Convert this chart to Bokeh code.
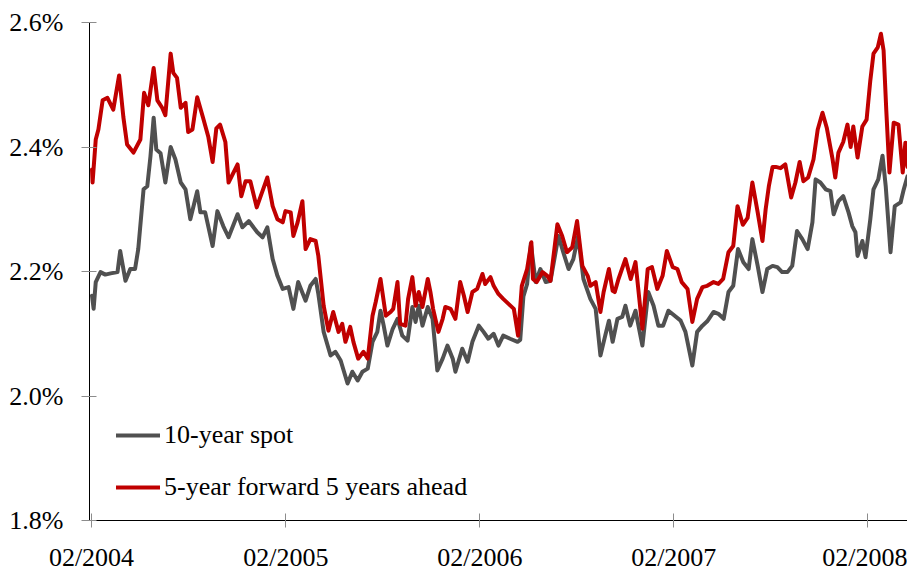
import pandas as pd
from bokeh.plotting import figure
from bokeh.models import (Range1d, FixedTicker, PrintfTickFormatter, DatetimeTickFormatter,
                          Legend, LegendItem, Label, ColumnDataSource)
from bokeh.embed import file_html
from bokeh.resources import INLINE

TITLE = "Figure 6: Long-term euro area break-even inflation"
SERIES_NAMES = ["10-year spot", "5-year forward 5 years ahead"]
Y_TICKS = [1.8, 2.0, 2.2, 2.4, 2.6]
X_TICK_DATES = ["2004-02-01", "2005-02-01", "2006-02-01", "2007-02-01", "2008-02-01"]

spot_dates = [
    "2004-02-02", "2004-02-05", "2004-02-09", "2004-02-18", "2004-02-27", "2004-03-08", "2004-03-21", "2004-03-26",
    "2004-04-05", "2004-04-14", "2004-04-23", "2004-04-29", "2004-05-09", "2004-05-16", "2004-05-22", "2004-05-28",
    "2004-06-02", "2004-06-10", "2004-06-19", "2004-06-29", "2004-07-08", "2004-07-18", "2004-07-27", "2004-08-05",
    "2004-08-18", "2004-08-24", "2004-09-02", "2004-09-16", "2004-09-25", "2004-10-06", "2004-10-16", "2004-11-02",
    "2004-11-11", "2004-11-23", "2004-12-09", "2004-12-19", "2004-12-28", "2005-01-07", "2005-01-16", "2005-01-26",
    "2005-02-06", "2005-02-15", "2005-02-24", "2005-03-10", "2005-03-19", "2005-03-29", "2005-04-03", "2005-04-13",
    "2005-04-26", "2005-05-05", "2005-05-15", "2005-05-28", "2005-06-06", "2005-06-16", "2005-06-25", "2005-07-05",
    "2005-07-14", "2005-07-23", "2005-07-29", "2005-08-04", "2005-08-11", "2005-08-21", "2005-08-30", "2005-09-08",
    "2005-09-18", "2005-09-27", "2005-10-03", "2005-10-09", "2005-10-16", "2005-10-26", "2005-11-04", "2005-11-13",
    "2005-11-23", "2005-12-02", "2005-12-12", "2005-12-17", "2005-12-30", "2006-01-09", "2006-01-18", "2006-01-30",
    "2006-02-08", "2006-02-17", "2006-02-27", "2006-03-08", "2006-03-17", "2006-03-30", "2006-04-13", "2006-04-18",
    "2006-04-24", "2006-05-01", "2006-05-08", "2006-05-17", "2006-05-26", "2006-06-05", "2006-06-14", "2006-06-29",
    "2006-07-08", "2006-07-18", "2006-07-27", "2006-08-05", "2006-08-15", "2006-08-28", "2006-09-07", "2006-09-16",
    "2006-09-25", "2006-10-02", "2006-10-09", "2006-10-18", "2006-10-27", "2006-11-02", "2006-11-11", "2006-11-21",
    "2006-12-04", "2006-12-15", "2006-12-25", "2007-01-03", "2007-01-12", "2007-01-22", "2007-02-01", "2007-02-14",
    "2007-02-23", "2007-03-08", "2007-03-17", "2007-03-27", "2007-04-05", "2007-04-17", "2007-04-26", "2007-05-06",
    "2007-05-15", "2007-05-24", "2007-06-02", "2007-06-12", "2007-06-22", "2007-06-29", "2007-07-09", "2007-07-18",
    "2007-07-27", "2007-08-06", "2007-08-15", "2007-08-24", "2007-09-03", "2007-09-12", "2007-09-21", "2007-10-01",
    "2007-10-11", "2007-10-20", "2007-10-26", "2007-11-04", "2007-11-14", "2007-11-23", "2007-11-29", "2007-12-08",
    "2007-12-17", "2007-12-27", "2008-01-03", "2008-01-09", "2008-01-13", "2008-01-22", "2008-01-28", "2008-02-06",
    "2008-02-12", "2008-02-21", "2008-02-29", "2008-03-06", "2008-03-11", "2008-03-15", "2008-03-23", "2008-04-03",
    "2008-04-09", "2008-04-16",
]
spot_values = [
    2.161, 2.140, 2.183, 2.199, 2.195, 2.197, 2.199, 2.233,
    2.185, 2.204, 2.204, 2.236, 2.332, 2.337, 2.385, 2.447,
    2.396, 2.390, 2.343, 2.400, 2.380, 2.343, 2.332, 2.284,
    2.329, 2.295, 2.295, 2.241, 2.297, 2.273, 2.255, 2.292,
    2.271, 2.281, 2.263, 2.255, 2.271, 2.220, 2.193, 2.172,
    2.175, 2.140, 2.183, 2.153, 2.177, 2.188, 2.164, 2.103,
    2.065, 2.071, 2.057, 2.020, 2.039, 2.025, 2.039, 2.044,
    2.087, 2.103, 2.137, 2.113, 2.081, 2.108, 2.124, 2.097,
    2.089, 2.143, 2.119, 2.145, 2.113, 2.143, 2.124, 2.041,
    2.060, 2.081, 2.060, 2.039, 2.076, 2.055, 2.087, 2.113,
    2.103, 2.092, 2.100, 2.081, 2.097, 2.092, 2.087, 2.090,
    2.160, 2.180, 2.245, 2.183, 2.204, 2.183, 2.185, 2.257,
    2.231, 2.204, 2.220, 2.257, 2.188, 2.156, 2.140, 2.065,
    2.097, 2.121, 2.087, 2.124, 2.127, 2.145, 2.113, 2.137,
    2.081, 2.167, 2.145, 2.113, 2.113, 2.137, 2.130, 2.121,
    2.103, 2.049, 2.103, 2.113, 2.120, 2.135, 2.132, 2.124,
    2.167, 2.177, 2.236, 2.215, 2.204, 2.252, 2.209, 2.167,
    2.204, 2.209, 2.207, 2.199, 2.199, 2.209, 2.265, 2.252,
    2.236, 2.279, 2.348, 2.343, 2.332, 2.329, 2.292, 2.313,
    2.321, 2.295, 2.273, 2.263, 2.225, 2.249, 2.223, 2.284,
    2.332, 2.348, 2.386, 2.337, 2.279, 2.231, 2.305, 2.311,
    2.332, 2.353,
]

fwd_dates = [
    "2004-02-02", "2004-02-03", "2004-02-09", "2004-02-14", "2004-02-22", "2004-03-02", "2004-03-13", "2004-03-24",
    "2004-04-01", "2004-04-08", "2004-04-20", "2004-05-03", "2004-05-10", "2004-05-18", "2004-05-28", "2004-06-04",
    "2004-06-13", "2004-06-19", "2004-06-29", "2004-07-04", "2004-07-11", "2004-07-18", "2004-07-27", "2004-08-01",
    "2004-08-09", "2004-08-18", "2004-08-29", "2004-09-08", "2004-09-16", "2004-09-23", "2004-09-30", "2004-10-10",
    "2004-10-16", "2004-11-02", "2004-11-09", "2004-11-17", "2004-11-26", "2004-12-08", "2004-12-18", "2004-12-28",
    "2005-01-07", "2005-01-16", "2005-01-26", "2005-01-31", "2005-02-10", "2005-02-15", "2005-02-23", "2005-03-04",
    "2005-03-10", "2005-03-19", "2005-03-29", "2005-04-03", "2005-04-13", "2005-04-22", "2005-05-01", "2005-05-11",
    "2005-05-18", "2005-05-24", "2005-06-02", "2005-06-08", "2005-06-17", "2005-06-27", "2005-07-05", "2005-07-14",
    "2005-07-20", "2005-07-29", "2005-08-08", "2005-08-17", "2005-08-22", "2005-08-30", "2005-09-04", "2005-09-14",
    "2005-09-19", "2005-09-27", "2005-10-03", "2005-10-09", "2005-10-16", "2005-10-26", "2005-10-31", "2005-11-05",
    "2005-11-15", "2005-11-23", "2005-11-28", "2005-12-08", "2005-12-17", "2005-12-26", "2006-01-02", "2006-01-09",
    "2006-01-18", "2006-01-27", "2006-02-06", "2006-02-11", "2006-02-21", "2006-02-27", "2006-03-08", "2006-03-17",
    "2006-03-27", "2006-04-06", "2006-04-14", "2006-04-21", "2006-05-01", "2006-05-09", "2006-05-12", "2006-05-19",
    "2006-05-30", "2006-06-08", "2006-06-14", "2006-06-27", "2006-07-06", "2006-07-15", "2006-07-25", "2006-08-03",
    "2006-08-13", "2006-08-23", "2006-08-28", "2006-09-07", "2006-09-16", "2006-09-22", "2006-10-02", "2006-10-09",
    "2006-10-13", "2006-10-20", "2006-11-02", "2006-11-12", "2006-11-21", "2006-12-04", "2006-12-14", "2006-12-22",
    "2007-01-01", "2007-01-11", "2007-01-19", "2007-01-30", "2007-02-08", "2007-02-16", "2007-02-27", "2007-03-08",
    "2007-03-17", "2007-03-27", "2007-04-05", "2007-04-17", "2007-04-26", "2007-05-05", "2007-05-15", "2007-05-24",
    "2007-06-01", "2007-06-11", "2007-06-20", "2007-06-29", "2007-07-09", "2007-07-18", "2007-07-24", "2007-07-30",
    "2007-08-06", "2007-08-12", "2007-08-21", "2007-08-30", "2007-09-10", "2007-09-18", "2007-09-26", "2007-10-03",
    "2007-10-12", "2007-10-22", "2007-10-30", "2007-11-08", "2007-11-16", "2007-11-27", "2007-12-02", "2007-12-08",
    "2007-12-17", "2007-12-25", "2007-12-31", "2008-01-05", "2008-01-13", "2008-01-22", "2008-01-30", "2008-02-06",
    "2008-02-12", "2008-02-20", "2008-02-26", "2008-03-02", "2008-03-07", "2008-03-13", "2008-03-21", "2008-03-30",
    "2008-04-07", "2008-04-12", "2008-04-16",
]
fwd_values = [
    2.364, 2.343, 2.412, 2.428, 2.475, 2.479, 2.460, 2.515,
    2.448, 2.404, 2.391, 2.412, 2.487, 2.467, 2.527, 2.475,
    2.463, 2.451, 2.550, 2.519, 2.511, 2.463, 2.471, 2.424,
    2.428, 2.480, 2.447, 2.416, 2.376, 2.430, 2.436, 2.408,
    2.343, 2.372, 2.321, 2.345, 2.345, 2.303, 2.327, 2.351,
    2.305, 2.284, 2.279, 2.297, 2.295, 2.257, 2.279, 2.313,
    2.236, 2.252, 2.249, 2.225, 2.145, 2.105, 2.135, 2.103,
    2.116, 2.087, 2.111, 2.087, 2.060, 2.071, 2.060, 2.129,
    2.151, 2.188, 2.129, 2.135, 2.140, 2.183, 2.116, 2.113,
    2.156, 2.191, 2.145, 2.167, 2.143, 2.188, 2.167, 2.140,
    2.103, 2.124, 2.143, 2.140, 2.124, 2.183, 2.161, 2.135,
    2.167, 2.172, 2.196, 2.180, 2.191, 2.177, 2.164, 2.156,
    2.148, 2.140, 2.097, 2.177, 2.204, 2.247, 2.188, 2.183,
    2.199, 2.193, 2.185, 2.276, 2.257, 2.231, 2.239, 2.281,
    2.209, 2.193, 2.177, 2.183, 2.135, 2.167, 2.204, 2.169,
    2.167, 2.188, 2.220, 2.188, 2.215, 2.108, 2.204, 2.207,
    2.172, 2.193, 2.233, 2.207, 2.204, 2.183, 2.172, 2.119,
    2.156, 2.175, 2.177, 2.183, 2.180, 2.188, 2.231, 2.241,
    2.305, 2.275, 2.286, 2.343, 2.295, 2.249, 2.300, 2.337,
    2.368, 2.368, 2.366, 2.372, 2.319, 2.343, 2.376, 2.345,
    2.351, 2.380, 2.428, 2.455, 2.431, 2.380, 2.351, 2.391,
    2.408, 2.436, 2.400, 2.433, 2.383, 2.433, 2.444, 2.507,
    2.550, 2.560, 2.582, 2.555, 2.460, 2.359, 2.439, 2.436,
    2.359, 2.407, 2.368,
]

SERIF = "Liberation Serif"
FS = "26px"

spot_src = ColumnDataSource(dict(date=pd.to_datetime(spot_dates), value=spot_values))
fwd_src = ColumnDataSource(dict(date=pd.to_datetime(fwd_dates), value=fwd_values))

p = figure(
    width=907, height=574,
    x_axis_type="datetime",
    output_backend="svg", toolbar_location=None,
    x_range=Range1d(pd.Timestamp("2004-01-28 06:00"), pd.Timestamp("2008-04-16 00:00")),
    y_range=Range1d(Y_TICKS[0], Y_TICKS[-1]),
    min_border_left=89, min_border_right=0, min_border_top=22, min_border_bottom=51,
    background_fill_color="white", border_fill_color="white",
)
p.outline_line_color = None
p.grid.visible = False

r_spot = p.line("date", "value", source=spot_src, line_color="#505050", line_width=4,
                line_join="round", line_cap="round")
r_fwd = p.line("date", "value", source=fwd_src, line_color="#c00000", line_width=4,
               line_join="round", line_cap="round")

# y axis
p.yaxis.ticker = FixedTicker(ticks=Y_TICKS, minor_ticks=[])
p.yaxis.formatter = PrintfTickFormatter(format="%.1f%%")
p.yaxis.axis_line_color = "black"
p.yaxis.major_tick_line_color = "#8c8c8c"
p.yaxis.major_tick_in = 7
p.yaxis.major_tick_out = 8
p.yaxis.minor_tick_line_color = None
p.yaxis.major_label_standoff = 18
p.yaxis.major_label_text_font = SERIF
p.yaxis.major_label_text_font_size = FS
p.yaxis.major_label_text_color = "black"

# x axis
xticks = [pd.Timestamp(d).value // 10**6 for d in X_TICK_DATES]
p.xaxis.ticker = FixedTicker(ticks=xticks, minor_ticks=[])
fmt = "%m/%Y"
p.xaxis.formatter = DatetimeTickFormatter(
    microseconds=fmt, milliseconds=fmt, seconds=fmt, minsec=fmt, minutes=fmt,
    hourmin=fmt, hours=fmt, days=fmt, months=fmt, years=fmt)
p.xaxis.axis_line_color = "black"
p.xaxis.major_tick_line_color = "#8c8c8c"
p.xaxis.major_tick_in = 7
p.xaxis.major_tick_out = 7
p.xaxis.minor_tick_line_color = None
p.xaxis.major_label_standoff = 15
p.xaxis.major_label_text_font = SERIF
p.xaxis.major_label_text_font_size = FS
p.xaxis.major_label_text_color = "black"

legend = Legend(
    items=[LegendItem(label=SERIES_NAMES[0], renderers=[r_spot]),
           LegendItem(label=SERIES_NAMES[1], renderers=[r_fwd])],
    location=(27, 18), orientation="vertical",
    padding=0, margin=0, spacing=22,
    glyph_width=44, glyph_height=30, label_height=30, label_standoff=4,
    label_text_font=SERIF, label_text_font_size=FS, label_text_color="black",
    border_line_alpha=0, background_fill_alpha=0,
)
p.add_layout(legend)

# the reference shows only the lower edge of this title, cut by the top of the image
title = Label(x=375, y=520, x_units="screen", y_units="screen", text=TITLE,
              text_align="center", text_baseline="alphabetic",
              text_font=SERIF, text_font_size="32px", text_color="black")
p.add_layout(title)

open("out.html", "w").write(file_html(p, INLINE))
